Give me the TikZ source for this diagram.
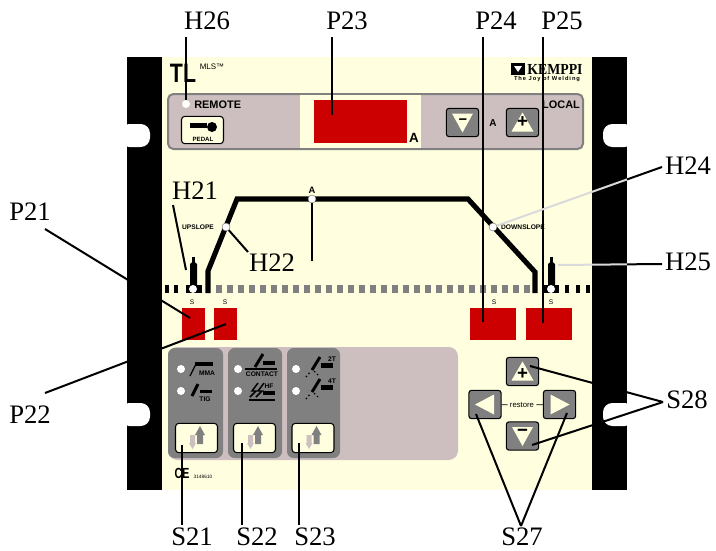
\documentclass[tikz,border=0pt]{standalone}
\usepackage{fontspec}
\setmainfont{Liberation Serif}
\setsansfont{Liberation Sans}
\usepackage{tikz}
\definecolor{panelyellow}{HTML}{FFFFE0}
\definecolor{panelpink}{HTML}{CDBFBF}
\definecolor{panelgray}{HTML}{808080}
\definecolor{dispred}{HTML}{CC0000}
\definecolor{leadgray}{HTML}{DADADA}
\tikzset{
  tag/.style={font=\fontsize{20}{20}\selectfont, inner sep=0pt},
  lead/.style={line width=1.5pt, black},
  tiny/.style={font=\sffamily\fontsize{4.6}{5}\selectfont\bfseries, inner sep=0pt},
  legend/.style={font=\sffamily\fontsize{5}{6}\selectfont\bfseries, inner sep=0pt},
  led/.style={circle, fill=white, inner sep=0pt, minimum size=6pt},
  pushbtn/.style={draw=black, line width=.8pt, fill=panelgray, rounded corners=2pt,
    minimum width=24.2pt, minimum height=21.2pt, inner sep=0pt},
  modebtn/.style={draw=black, line width=.8pt, fill=panelyellow, rounded corners=2.5pt,
    minimum width=31.5pt, minimum height=22pt, inner sep=0pt},
  modepanel/.style={fill=panelgray, rounded corners=5pt},
  tri/.style={fill=panelyellow},
  bar/.style={fill=black},
  stem/.style={line width=2.2pt, black},
  keysign/.style={font=\sffamily\bfseries\fontsize{14}{14}\selectfont, inner sep=0pt},
}
% small helpers
\newcommand{\triup}[1]{\fill[tri,shift={(#1.center)}] (0,-10) -- (11,9) -- (-11,9) -- cycle;}
\newcommand{\tridown}[1]{\fill[tri,shift={(#1.center)}] (0,10) -- (10.5,-9) -- (-10.5,-9) -- cycle;}
\newcommand{\modearrows}[1]{
  \fill[panelgray,shift={(#1.center)}] (0.5,-3) rectangle (6.5,6) (-1.5,-3) -- (3.5,-12) -- (8.5,-3) -- cycle;
  \fill[panelpink,shift={(#1.center)}] (-6.5,-3) rectangle (-1.5,5) (-7.5,5) -- (-4,11) -- (-0.5,5) -- cycle;
}
\begin{document}
\begin{tikzpicture}[x=.75pt,y=-.75pt]
  \useasboundingbox (0,0) rectangle (716,550);
  % housing
  \fill[black] (127,57) rectangle (627,490);
  \fill[panelyellow] (162,57) rectangle (592,490);
  \foreach \ny in {124,403} {
    \fill[white,rounded corners=7pt] (120,\ny) rectangle (150,\ny+23);
    \fill[white] (120,\ny) rectangle (127,\ny+23);
    \fill[white,rounded corners=7pt] (603,\ny) rectangle (634,\ny+23);
    \fill[white] (627,\ny) rectangle (634,\ny+23);
  }
  % top strip
  \draw[line width=1.5pt,draw=panelgray,fill=panelpink,rounded corners=4pt] (168,94) rectangle (583,149);
  \fill[panelyellow] (300,95) rectangle (421,148);
  \fill[dispred] (314,100) rectangle (407,143);
  \node[font=\sffamily\bfseries\fontsize{10}{10}\selectfont,inner sep=0pt] (dispunit) at (414,138) {A};
  \node[font=\sffamily\bfseries\fontsize{20}{20}\selectfont,inner sep=0pt,xscale=.8] (typetl) at (183,73) {TL};
  \node[font=\sffamily\fontsize{6}{6}\selectfont,inner sep=0pt] (typemls) at (212,67) {MLS™};
  \node[font=\sffamily\bfseries\fontsize{8.2}{8}\selectfont,inner sep=0pt,anchor=west] (remote) at (194,105) {REMOTE};
  \node[font=\sffamily\bfseries\fontsize{8.2}{8}\selectfont,inner sep=0pt] (local) at (561,105) {LOCAL};
  \node[modebtn,minimum width=31.5pt,minimum height=20.5pt] (pedal) at (202.5,130) {};
  \fill[black] (190,123) rectangle (207,128);
  \fill[black] (212,127) circle (5);
  \node[tiny] (pedaltxt) at (203,139) {PEDAL};
  \node[led] (h26led) at (186,104) {};
  \node[pushbtn] (curminus) at (462.5,122.5) {};
  \node[pushbtn] (curplus) at (522.5,122.5) {};
  \tridown{curminus}
  \triup{curplus}
  \node[keysign,font=\sffamily\bfseries\fontsize{11}{11}\selectfont] (curminustxt) at (463,121.5) {−};
  \node[keysign] (curplustxt) at (522.5,122.5) {+};
  \node[font=\sffamily\bfseries\fontsize{7.5}{7}\selectfont,inner sep=0pt] (curunit) at (493,123) {A};
  % maker's mark
  \fill[black] (511,63) rectangle (525,75);
  \fill[white] (514,66) -- (522,66) -- (518,72) -- cycle;
  \node[font=\rmfamily\bfseries\fontsize{11.5}{11}\selectfont,inner sep=0pt,xscale=.9] (kemppi) at (555,69) {KEMPPI};
  \node[font=\sffamily\bfseries\fontsize{4.3}{5}\selectfont,inner sep=0pt] (joy) at (547,79) {T\,h\,e\ \,J\,o\,y\ \,o\,f\ \,W\,e\,l\,d\,i\,n\,g};
  % time line
  \foreach \i in {0,...,28}
    \fill[panelgray] (216+\i*11,285) rectangle (221.5+\i*11,293);
  \foreach \sx in {165,174,565,576,586}
    \fill[black] (\sx,285) rectangle (\sx+4,293);
  \fill[black] (186,285) rectangle (202,293);
  \fill[black] (544,285) rectangle (559,293);
  \foreach \tx in {193.5,551.5} {
    \fill[black] (\tx-3.5,285) -- (\tx-3.5,264) -- (\tx,261) -- (\tx+3.5,264) -- (\tx+3.5,285) -- cycle;
    \fill[black] (\tx-1.5,257) rectangle (\tx+1.5,262);
  }
  \draw[line width=3.8pt,black,miter limit=6] (208,293) -- (208,271) -- (237,199) -- (468,199) -- (535,272) -- (535,293);
  \node[led] (h21led) at (193,289) {};
  \node[led] (h25led) at (551,289) {};
  \node[led,draw=black!60,line width=.3pt] (h22led) at (226,227) {};
  \node[led,draw=black!60,line width=.3pt] (h24led) at (493,227) {};
  \node[led,draw=black!60,line width=.3pt] (aled) at (312,199) {};
  \node[legend] (uptxt) at (198,227) {UPSLOPE};
  \node[legend] (downtxt) at (523,227) {DOWNSLOPE};
  \node[font=\sffamily\bfseries\fontsize{7}{7}\selectfont,inner sep=0pt] (atxt) at (312,190) {A};
  \foreach \lx in {192,225,494,551}
    \node[font=\sffamily\fontsize{5}{5}\selectfont,inner sep=0pt] at (\lx,302) {S};
  \fill[dispred] (182,308) rectangle (205,340);
  \fill[dispred] (214,308) rectangle (237,340);
  \fill[dispred] (470,308) rectangle (516,340);
  \fill[dispred] (526,308) rectangle (572,340);
  % mode selectors
  \fill[panelpink,rounded corners=7pt] (168,347) rectangle (458,460);
  \fill[modepanel] (168,348) rectangle (223,458);
  \fill[modepanel] (228,348) rectangle (282,458);
  \fill[modepanel] (287,348) rectangle (340,458);
  \foreach \lx/\nm in {181/a,238/b,296/c} {
    \node[led] (led\nm1) at (\lx,369) {};
    \node[led] (led\nm2) at (\lx,391) {};
  }
  % MMA, TIG
  \fill[bar] (195,362) rectangle (213,366);
  \draw[black,line width=.9pt] (190,376) -- (196,364);
  \node[legend] (mmatxt) at (207,373.5) {MMA};
  \fill[bar] (200,390) rectangle (212,393);
  \draw[stem] (198,384) -- (192,396);
  \node[legend] (tigtxt) at (205,399) {TIG};
  % CONTACT, HF
  \fill[bar] (263,361) rectangle (275,365);
  \draw[stem] (263,354) -- (255,367);
  \draw[black,line width=.9pt] (245,369) -- (277,369);
  \node[legend] (contacttxt) at (262,374.5) {CONTACT};
  \fill[bar] (263,391) rectangle (275,395);
  \draw[black,line width=1.1pt] (258,383) -- (252,391) -- (256,391) -- (250,397);
  \draw[black,line width=1.1pt] (264,383) -- (258,391) -- (262,391) -- (256,397);
  \draw[black,line width=1.1pt] (249,400) -- (275,400);
  \node[legend] (hftxt) at (269,386) {HF};
  % 2T, 4T
  \foreach \ty/\nm in {0/two,22/four} {
    \fill[bar] (321,363+\ty) rectangle (333,368+\ty);
    \draw[stem] (320,357+\ty) -- (312,370+\ty);
    \draw[line width=1pt,black,dotted] (306,377+\ty) -- (311,371+\ty);
    \draw[line width=1pt,black,dotted] (318,375+\ty) -- (314,371+\ty);
  }
  \node[legend] (twotxt) at (332,359) {2T};
  \node[legend] (fourtxt) at (332,381) {4T};
  \node[modebtn] (s21btn) at (196.5,438) {};
  \node[modebtn] (s22btn) at (254.5,438) {};
  \node[modebtn] (s23btn) at (313,438) {};
  \modearrows{s21btn}
  \modearrows{s22btn}
  \modearrows{s23btn}
  \node[font=\sffamily\bfseries\fontsize{11}{11}\selectfont,inner sep=0pt,xscale=.72] (ce) at (182,473) {CE};
  \node[font=\sffamily\fontsize{3.6}{4}\selectfont,inner sep=0pt] (partno) at (203,477) {3148610};
  % arrow keys
  \node[pushbtn] (keyplus) at (522.5,371.5) {};
  \node[pushbtn] (keyminus) at (522.5,436) {};
  \node[pushbtn] (keyleft) at (485,404.5) {};
  \node[pushbtn] (keyright) at (559.5,404.5) {};
  \triup{keyplus}
  \tridown{keyminus}
  \fill[tri,shift={(keyleft.center)}] (-10,0) -- (9,-10) -- (9,10) -- cycle;
  \fill[tri,shift={(keyright.center)}] (10,0) -- (-9,-10) -- (-9,10) -- cycle;
  \node[keysign] (keyplustxt) at (522.5,374) {+};
  \node[keysign] (keyminustxt) at (522.5,433) {−};
  \node[font=\sffamily\fontsize{5.8}{6}\selectfont,inner sep=1.5pt] (restore) at (522,405) {restore};
  \draw[line width=.6pt] (keyleft) -- (restore);
  \draw[line width=.6pt] (restore) -- (keyright);
  % reference letters
  \node[tag] (H26) at (207,21) {H26};
  \node[tag] (P23) at (347,21) {P23};
  \node[tag] (P24) at (496,21) {P24};
  \node[tag] (P25) at (562,21) {P25};
  \node[tag] (H21) at (195,191) {H21};
  \node[tag] (H22) at (272,263) {H22};
  \node[tag] (H24) at (688,166) {H24};
  \node[tag] (H25) at (688,262) {H25};
  \node[tag] (P21) at (30,212) {P21};
  \node[tag] (P22) at (30,415) {P22};
  \node[tag] (S21) at (192,537) {S21};
  \node[tag] (S22) at (257,537) {S22};
  \node[tag] (S23) at (315,537) {S23};
  \node[tag] (S27) at (522,537) {S27};
  \node[tag] (S28) at (687,400) {S28};
  % lead ends
  \coordinate (h26top) at (186,37);
  \coordinate (p23top) at (332,37);
  \coordinate (p23end) at (332,115);
  \coordinate (p24top) at (483,37);
  \coordinate (p24end) at (483,322);
  \coordinate (p25top) at (543,37);
  \coordinate (p25end) at (543,323);
  \coordinate (h21top) at (173,205);
  \coordinate (h21end) at (186,270);
  \coordinate (h22end) at (248,252);
  \coordinate (aend) at (312,261);
  \coordinate (p21top) at (45,229);
  \coordinate (p21end) at (190,318);
  \coordinate (p22top) at (45,393);
  \coordinate (p22end) at (226,324);
  \coordinate (h24end) at (662,167);
  \coordinate (h25end) at (662,264);
  \coordinate (h25start) at (558,265);
  \coordinate (s21top) at (182,445);
  \coordinate (s22top) at (242,443);
  \coordinate (s23top) at (299,443);
  \coordinate (s21end) at (182,525);
  \coordinate (s22end) at (242,525);
  \coordinate (s23end) at (299,525);
  \coordinate (s27end) at (521,526);
  \coordinate (s28end) at (663,402);
  \coordinate (s27a) at (476,414);
  \coordinate (s27b) at (567,413);
  \coordinate (s28a) at (530,366);
  \coordinate (s28b) at (532,445);
  \draw[lead] (h26top) -- (h26led);
  \draw[lead] (p23top) -- (p23end);
  \draw[lead] (p24top) -- (p24end);
  \draw[lead] (p25top) -- (p25end);
  \draw[lead] (h21top) -- (h21end);
  \draw[lead] (h22led) -- (h22end);
  \draw[lead] (aled) -- (aend);
  \draw[lead] (p21top) -- (p21end);
  \draw[lead] (p22top) -- (p22end);
  \draw[lead] (s21top) -- (s21end);
  \draw[lead] (s22top) -- (s22end);
  \draw[lead] (s23top) -- (s23end);
  \draw[lead] (s27a) -- (s27end);
  \draw[lead] (s27b) -- (s27end);
  \draw[lead] (s28a) -- (s28end);
  \draw[lead] (s28b) -- (s28end);
  % gray inside the housing, black outside
  \begin{scope}
    \clip (162,57) rectangle (627,490);
    \draw[lead,leadgray] (h24led) -- (h24end);
    \draw[lead,leadgray] (h25start) -- (h25end);
  \end{scope}
  \begin{scope}
    \clip (627,57) rectangle (716,490);
    \draw[lead] (h24led) -- (h24end);
    \draw[lead] (h25start) -- (h25end);
  \end{scope}
\end{tikzpicture}
\end{document}
